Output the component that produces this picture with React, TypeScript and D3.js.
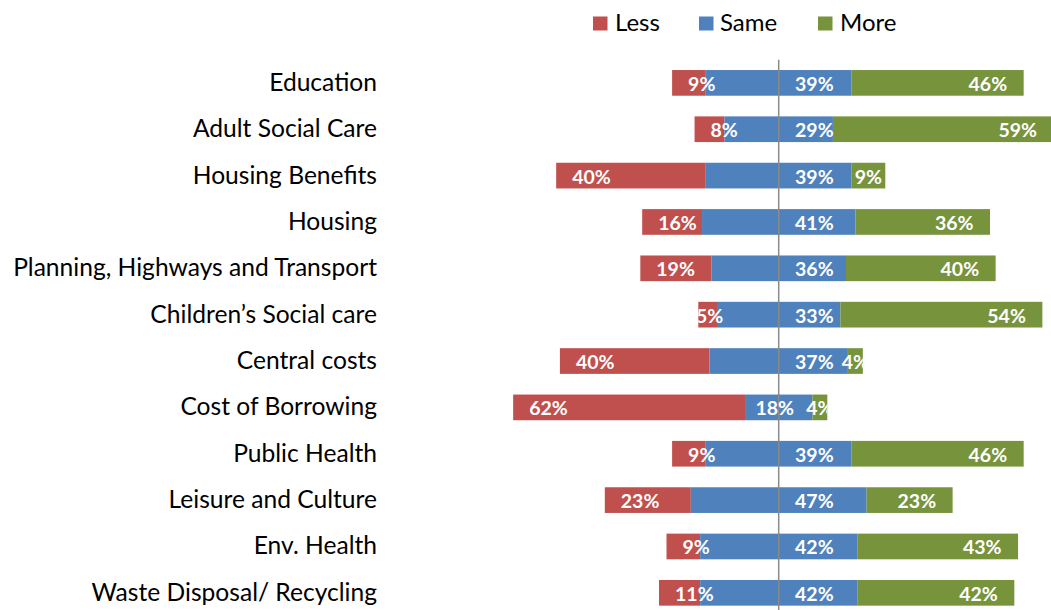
import React from "react";
import * as d3 from "d3";

const categories = [
  "Education",
  "Adult Social Care",
  "Housing Benefits",
  "Housing",
  "Planning, Highways and Transport",
  "Children’s Social care",
  "Central costs",
  "Cost of Borrowing",
  "Public Health",
  "Leisure and Culture",
  "Env. Health",
  "Waste Disposal/ Recycling",
];
const lessValues = [9, 8, 40, 16, 19, 5, 40, 62, 9, 23, 9, 11];
const sameValues = [39, 29, 39, 41, 36, 33, 37, 18, 39, 47, 42, 42];
const moreValues = [46, 59, 9, 36, 40, 54, 4, 4, 46, 23, 43, 42];
const seriesNames = ["Less", "Same", "More"];
const seriesColors = ["#C0504D", "#4F81BD", "#77933C"];

const W = 1051;
const H = 610;
const CX = 778.7;
const PX_PER_PCT = 3.74;

const FONT = "Lato, 'Open Sans', sans-serif";

export default function App() {
  const x = d3
    .scaleLinear()
    .domain([0, 100])
    .range([CX, CX + PX_PER_PCT * 100]);
  const y = d3
    .scaleBand<string>()
    .domain(categories)
    .range([59.7, 616])
    .paddingInner(0.446)
    .paddingOuter(0.223);
  const bh = y.bandwidth();

  const rows = categories.map((c, i) => {
    const s = sameValues[i];
    const l = lessValues[i];
    const m = moreValues[i];
    const sameL = x(-s / 2);
    const sameR = x(s / 2);
    const lessL = x(-s / 2 - l);
    const moreR = x(s / 2 + m);
    return { c, i, s, l, m, sameL, sameR, lessL, moreR, y0: y(c) as number };
  });

  const legendItems = [
    { sq: 593, tx: 615 },
    { sq: 699, tx: 720 },
    { sq: 818, tx: 840 },
  ];

  return (
    <svg
      width={W}
      height={H}
      style={{ position: "absolute", left: 0, top: 0, background: "#fff" }}
      fontFamily={FONT}
    >
      <defs>
        {rows.map((r) => (
          <React.Fragment key={r.c}>
            <clipPath id={`clipL${r.i}`}>
              <rect x={r.lessL} y={r.y0 - 5} width={300} height={bh + 10} />
            </clipPath>
            <clipPath id={`clipM${r.i}`}>
              <rect x={r.sameR - 300} y={r.y0 - 5} width={300 + (r.moreR - r.sameR)} height={bh + 10} />
            </clipPath>
          </React.Fragment>
        ))}
      </defs>

      {/* legend */}
      {seriesNames.map((n, k) => (
        <g key={n}>
          <rect x={legendItems[k].sq} y={16.5} width={14.5} height={14} fill={seriesColors[k]} />
          <text x={legendItems[k].tx} y={30.7} fontSize={24} fill="#000">
            {n}
          </text>
        </g>
      ))}

      {/* category labels */}
      {rows.map((r) => (
        <text
          key={"cat" + r.c}
          x={377}
          y={r.y0 + bh / 2 + 8}
          textAnchor="end"
          fontSize={24.6}
          fill="#000"
        >
          {r.c}
        </text>
      ))}

      {/* bars */}
      {rows.map((r) => (
        <g key={"bar" + r.c}>
          <rect x={r.lessL} y={r.y0} width={r.sameL - r.lessL} height={bh} fill={seriesColors[0]} />
          <rect x={r.sameL} y={r.y0} width={r.sameR - r.sameL} height={bh} fill={seriesColors[1]} />
          <rect x={r.sameR} y={r.y0} width={r.moreR - r.sameR} height={bh} fill={seriesColors[2]} />
        </g>
      ))}

      {/* center line */}
      <line x1={CX} x2={CX} y1={59.7} y2={616} stroke="#8a8a8a" strokeWidth={1.5} />

      {/* data labels */}
      {rows.map((r) => {
        const lessW = r.sameL - r.lessL;
        const moreW = r.moreR - r.sameR;
        const halfW = r.sameR - CX;
        const ty = r.y0 + bh / 2 + 8;
        const common = { fontSize: 19.5, fontWeight: 700, fill: "#fff" } as const;
        return (
          <g key={"lab" + r.c}>
            {lessW < 25 ? (
              <text {...common} x={(r.lessL + r.sameL) / 2 + 2} y={ty} textAnchor="middle" clipPath={`url(#clipL${r.i})`}>
                {r.l}%
              </text>
            ) : (
              <text {...common} x={r.lessL + 16} y={ty} textAnchor="start">
                {r.l}%
              </text>
            )}
            {halfW < 45 ? (
              <text {...common} x={CX - 4} y={ty} textAnchor="middle">
                {r.s}%
              </text>
            ) : (
              <text {...common} x={CX + 16.3} y={ty} textAnchor="start">
                {r.s}%
              </text>
            )}
            {moreW < 40 ? (
              <text {...common} x={(r.sameR + r.moreR) / 2} y={ty} textAnchor="middle" clipPath={`url(#clipM${r.i})`}>
                {r.m}%
              </text>
            ) : (
              <text {...common} x={r.moreR - 16.5} y={ty} textAnchor="end">
                {r.m}%
              </text>
            )}
          </g>
        );
      })}
    </svg>
  );
}
